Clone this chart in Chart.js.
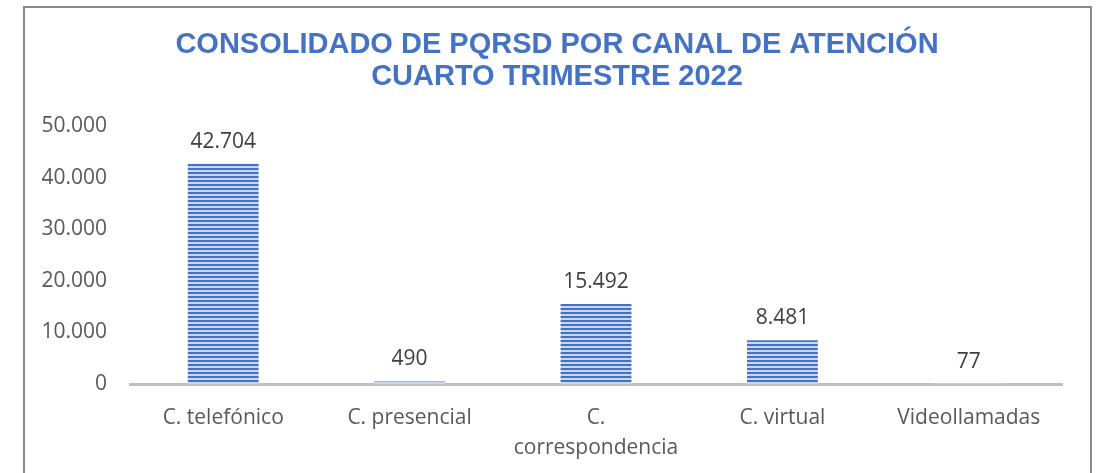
<!doctype html>
<html>
<head>
<meta charset="utf-8">
<title>PQRSD por canal</title>
<script src="https://cdn.jsdelivr.net/npm/chart.js@4"></script>
<style>
    body {margin: 0; background: #fff}
    #wrap {position: relative; width: 1097px; height: 473px}
    #frame {position: absolute; left: 23px; top: 6px; width: 1065px; height: 480px; border: 2px solid #8a8a8a; pointer-events: none}
</style>
</head>
<body>
<div id="wrap">
<canvas id="chart" width="1097" height="473"></canvas>
<div id="frame"></div>
</div>
<script>
let categories = ['C. telefónico', 'C. presencial', ['C.', 'correspondencia'], 'C. virtual', 'Videollamadas']
let values = [42704, 490, 15492, 8481, 77]
let titleLines = ['CONSOLIDADO DE PQRSD POR CANAL DE ATENCIÓN', 'CUARTO TRIMESTRE 2022']

function formatNumber(v) {
    return String(v).replace(/\B(?=(\d{3})+(?!\d))/g, '.')
}

// horizontal stripe fill like the original
function stripes() {
    let c = document.createElement('canvas')
    c.width = 4
    c.height = 4
    let ctx = c.getContext('2d')
    ctx.fillStyle = '#c9d6ef'
    ctx.fillRect(0, 0, 4, 4)
    ctx.fillStyle = '#4472c4'
    ctx.fillRect(0, 0, 4, 2)
    return ctx.createPattern(c, 'repeat')
}

let labelPlugin = {
    id: 'valueLabels',
    afterDatasetsDraw(chart) {
        let ctx = chart.ctx
        let meta = chart.getDatasetMeta(0)
        ctx.save()
        ctx.font = '21px "Open Sans"'
        ctx.fillStyle = '#404040'
        ctx.textAlign = 'center'
        ctx.textBaseline = 'middle'
        meta.data.forEach(function (bar, i) {
            ctx.fillText(formatNumber(values[i]), bar.x, bar.y - 22)
        })
        ctx.restore()
    }
}

// title centred on the outer frame, not on the canvas
let titlePlugin = {
    id: 'frameTitle',
    afterDraw(chart) {
        let ctx = chart.ctx
        ctx.save()
        ctx.font = 'bold 29px "Liberation Sans", Arial'
        ctx.fillStyle = '#4472c4'
        ctx.textAlign = 'center'
        ctx.textBaseline = 'middle'
        titleLines.forEach(function (line, i) {
            ctx.fillText(line, 557, 45 + i * 32)
        })
        ctx.restore()
    }
}

new Chart(document.getElementById('chart'), {
    type: 'bar',
    data: {
        labels: categories,
        datasets: [{
            data: values,
            backgroundColor: stripes(),
            borderWidth: 0,
            barPercentage: 0.38,
            categoryPercentage: 1
        }]
    },
    options: {
        responsive: false,
        animation: false,
        layout: {padding: {left: 42, right: 35, top: 126, bottom: 2}},
        plugins: {
            legend: {display: false},
            tooltip: {enabled: false}
        },
        scales: {
            x: {
                grid: {display: false, drawTicks: false},
                border: {display: true, color: '#bfbfbf', width: 3},
                afterFit: function (scale) { scale.height = 87 },
                ticks: {color: '#595959', font: {family: '"Open Sans"', size: 21, lineHeight: 1.43}, padding: 19, maxRotation: 0}
            },
            y: {
                min: 0,
                max: 50000,
                grid: {display: false, drawTicks: false},
                border: {display: false},
                afterFit: function (scale) { scale.width = 88 },
                ticks: {
                    stepSize: 10000,
                    color: '#595959',
                    font: {family: '"Open Sans"', size: 21},
                    padding: 23,
                    callback: function (v) { return formatNumber(v) }
                }
            }
        }
    },
    plugins: [labelPlugin, titlePlugin]
})
</script>
</body>
</html>
